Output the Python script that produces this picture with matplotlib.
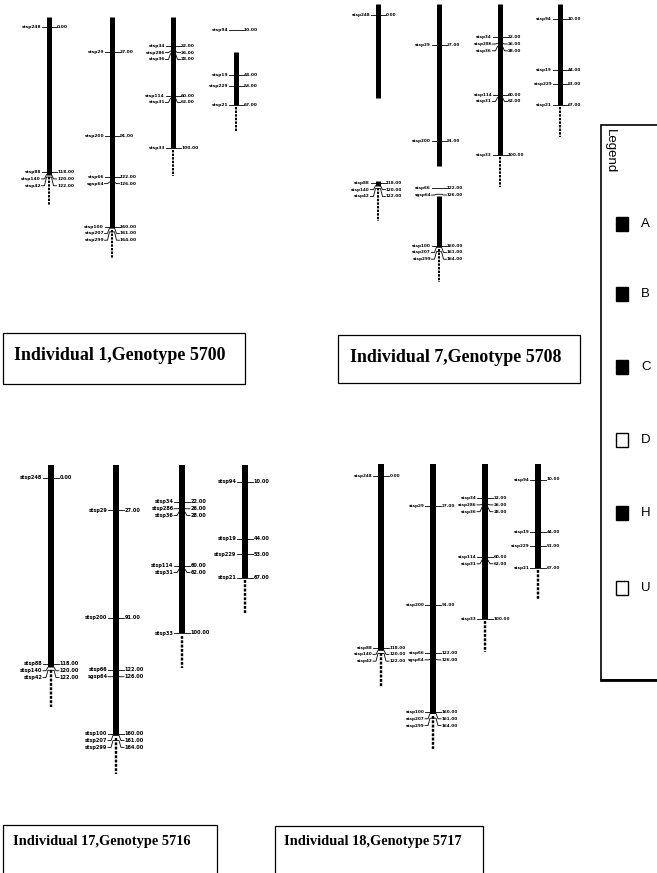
import matplotlib.pyplot as plt
from matplotlib.patches import Rectangle

# linkage map, same markers for every individual
chr_names = [
    ["stsp248", "stsp88", "stsp140", "stsp42"],
    ["stsp29", "stsp200", "stsp66", "sgsp64", "stsp100", "stsp207", "stsp299"],
    ["stsp34", "stsp286", "stsp36", "stsp114", "stsp31", "stsp33"],
    ["stsp94", "stsp19", "stsp229", "stsp21"],
]
chr_pos = [
    [0.0, 118.0, 120.0, 122.0],
    [27.0, 91.0, 122.0, 126.0, 160.0, 161.0, 164.0],
    [22.0, 26.0, 28.0, 60.0, 62.0, 100.0],
    [10.0, 44.0, 53.0, 67.0],
]
solid_end = [120, 161, 100, 67]
tail_end = [145, 184, 121, 88]

titles = ["Individual 1,Genotype 5700", "Individual 7,Genotype 5708",
          "Individual 17,Genotype 5716", "Individual 18,Genotype 5717"]

legend_labels = ["A", "B", "C", "D", "H", "U"]
legend_filled = [True, True, True, False, True, False]

# broken bars seen in the scan: (panel, chromosome) -> cM gap
gaps = {(1, 0): (58, 117), (1, 1): (107, 127), (0, 3): (-10, 27)}

# layout (pixels)
W, H = 657, 873
panel_rect = [(0, 0, 330, 300), (330, 0, 600, 300), (0, 440, 330, 800), (330, 440, 600, 800)]
panel_top = [17, 4, 465, 464]
panel_scale = [1.31, 1.51, 1.68, 1.55]
chr_x = [[49, 112, 173, 236], [378, 439, 500, 560], [51, 116, 182, 245], [381, 433, 485, 538]]
bar_w = [5, 5, 6, 6]
font_sz = [3.2, 3.0, 3.6, 3.0]
chr_shift = [7.5, 0, 0, 0]
chr_factor = [0.94, 1, 1, 1]

fig = plt.figure(figsize=(W / 100, H / 100), dpi=100)


def draw_y(c, cm):
    return chr_shift[c] + chr_factor[c] * cm


for p in range(4):
    x0, y0, x1, y1 = panel_rect[p]
    T, S = panel_top[p], panel_scale[p]
    ax = fig.add_axes([x0 / W, 1 - y1 / H, (x1 - x0) / W, (y1 - y0) / H])
    ax.set_xlim(x0, x1)
    ax.set_ylim((y1 - T) / S, (y0 - T) / S)
    ax.axis("off")
    lw = bar_w[p] * 0.72
    hw = bar_w[p] / 2
    for c in range(4):
        x = chr_x[p][c]
        top = 0
        bot = draw_y(c, solid_end[c])
        if (p, c) in gaps:
            g0, g1 = gaps[(p, c)]
            segs = [(top, draw_y(c, g0)), (draw_y(c, g1), bot)]
        else:
            segs = [(top, bot)]
        for a, b in segs:
            if b > a:
                ax.plot([x, x], [a, b], color="black", lw=lw, solid_capstyle="butt")
        ax.plot([x, x], [bot + 1.5, draw_y(c, tail_end[c])], color="black",
                lw=lw * 0.4, linestyle=(0, (1.2, 0.6)))

        # markers with labels spread downwards
        gap = 6.8 / S
        last = -1e9
        for name, cm in zip(chr_names[c], chr_pos[c]):
            ym = draw_y(c, cm)
            yl = max(ym, last + gap)
            last = yl
            ax.plot([x - hw - 5, x - hw - 2, x - hw, x + hw, x + hw + 2, x + hw + 5],
                    [yl, yl, ym, ym, yl, yl], color="black", lw=0.6)
            ax.text(x - hw - 5.5, yl, name, ha="right", va="center",
                    fontsize=font_sz[p], fontweight="bold")
            ax.text(x + hw + 5.5, yl, "%.2f" % cm, ha="left", va="center",
                    fontsize=font_sz[p], fontweight="bold")

# title boxes
box_rect = [(3, 333, 245, 384), (338, 335, 580, 383), (3, 825, 217, 880), (275, 826, 483, 880)]
text_pos = [(14, 356), (350, 357), (13, 842), (284, 841)]
title_sz = [12.9, 12.9, 10.4, 10.4]
for i in range(4):
    bx0, by0, bx1, by1 = box_rect[i]
    fig.patches.append(Rectangle((bx0 / W, 1 - by1 / H), (bx1 - bx0) / W, (by1 - by0) / H,
                                 transform=fig.transFigure, fill=False, lw=0.9,
                                 edgecolor="black"))
    tx, ty = text_pos[i]
    fig.text(tx / W, 1 - ty / H, titles[i], ha="left", va="center",
             family="Liberation Serif", fontweight="bold", fontsize=title_sz[i])

# legend box (runs off the right edge)
fig.patches.append(Rectangle((601 / W, 1 - 680 / H), 80 / W, 555 / H,
                             transform=fig.transFigure, fill=False, lw=1.2,
                             edgecolor="black"))
fig.lines.append(plt.Line2D([601 / W, 1], [1 - 680 / H, 1 - 680 / H],
                            transform=fig.transFigure, color="black", lw=2))
fig.text(604 / W, 1 - 129 / H, "Legend", rotation=-90, ha="left", va="top",
         family="Liberation Sans", fontsize=9.5)
leg_y = [224, 294, 367, 440, 513, 588]
for lab, filled, ly in zip(legend_labels, legend_filled, leg_y):
    fig.patches.append(Rectangle((616 / W, 1 - (ly + 7) / H), 12 / W, 14 / H,
                                 transform=fig.transFigure,
                                 facecolor="black" if filled else "white",
                                 edgecolor="black", lw=1))
    fig.text(641 / W, 1 - ly / H, lab, ha="left", va="center",
             family="Liberation Sans", fontsize=9.5)

fig.savefig("out.png", dpi=100)
